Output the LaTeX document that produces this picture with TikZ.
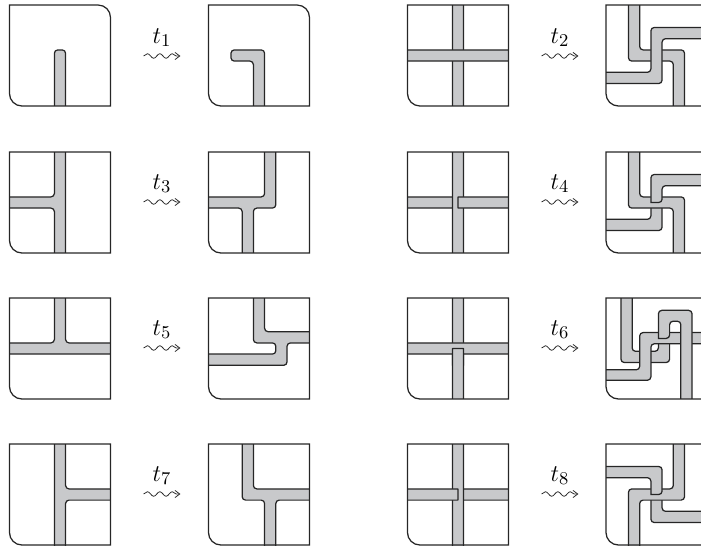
\documentclass[tikz,border=0pt]{standalone}
\usetikzlibrary{decorations.pathmorphing,arrows.meta}
\definecolor{bandgray}{RGB}{200,201,203}
\definecolor{inkline}{RGB}{38,38,38}
\tikzset{
  strand/.style={fill=bandgray,draw=inkline,line width=0.62pt,rounded corners=1.7pt,line join=miter},
  blunt/.style={fill=bandgray,draw=inkline,line width=0.62pt,rounded corners=0.15pt,line join=miter},
  frameline/.style={draw=inkline,line width=0.62pt,line join=miter},
  wavy/.style={draw=inkline,line width=0.38pt,-{Straight Barb[length=2.4pt,width=3.6pt]},decorate,
    decoration={snake,amplitude=1.15pt,segment length=6.2pt,post length=1.6pt}},
  tlabel/.style={inner sep=0pt,font=\fontsize{13}{15}\selectfont}
}
\newcommand\hband[3]{\path[blunt] (#1,#3) -- (#2,#3) -- (#2,#3+1) -- (#1,#3+1) -- cycle;}
\newcommand\vband[3]{\path[blunt] (#3,#1) -- (#3+1,#1) -- (#3+1,#2) -- (#3,#2) -- cycle;}
\newcommand\cellbox[4]{% x, y, top-right rounded (1/0), contents
  \begin{scope}[shift={(#1pt,#2pt)},x=5.61pt,y=5.61pt]
    \begin{scope}
      \clip (0,0) -- (9,0) -- (9,9) -- (0,9) -- cycle;
      #4
    \end{scope}
    \ifnum#3=1
      \path[frameline] (0,9) -- (7.9,9) arc[start angle=90,end angle=0,radius=1.1] -- (9,0) -- (1.1,0) arc[start angle=270,end angle=180,radius=1.1] -- cycle;
    \else
      \path[frameline] (0,9) -- (9,9) -- (9,0) -- (1.1,0) arc[start angle=270,end angle=180,radius=1.1] -- cycle;
    \fi
  \end{scope}}
\newcommand\transition[4]{% name, x, y, index
  \coordinate (#1s) at (#2pt-9.2pt,#3pt);
  \coordinate (#1e) at (#2pt+9.2pt,#3pt);
  \path[wavy] (#1s) -- (#1e);
  \node[tlabel] (#1l) at (#2pt,#3pt+9.2pt) {$t_{#4}$};}
\begin{document}
\begin{tikzpicture}
\useasboundingbox (0,0) rectangle (350.5pt,273pt);
\clip (0,0) rectangle (350.5pt,273pt);
% Row 1
\cellbox{4.75}{220}{1}{
  \path[strand] (4,-1) -- (4,5) -- (5,5) -- (5,-1) -- cycle;}
\cellbox{104.25}{220}{1}{
  \path[strand] (4,-1) -- (4,4) -- (2,4) -- (2,5) -- (5,5) -- (5,-1) -- cycle;}
\cellbox{203.75}{220}{0}{
  \vband{-1}{10}{4}
  \hband{-1}{10}{4}}
\cellbox{303}{220}{0}{
  \path[strand] (2,10) -- (2,4) -- (6,4) -- (6,-1) -- (7,-1) -- (7,5) -- (3,5) -- (3,10) -- cycle;
  \path[strand] (-1,2) -- (5,2) -- (5,6) -- (10,6) -- (10,7) -- (4,7) -- (4,3) -- (-1,3) -- cycle;}
% Row 2
\cellbox{4.75}{146.5}{0}{
  \path[strand] (-1,4) -- (4,4) -- (4,-1) -- (5,-1) -- (5,10) -- (4,10) -- (4,5) -- (-1,5) -- cycle;}
\cellbox{104.25}{146.5}{0}{
  \path[strand] (-1,5) -- (5,5) -- (5,10) -- (6,10) -- (6,4) -- (4,4) -- (4,-1) -- (3,-1) -- (3,4) -- (-1,4) -- cycle;}
\cellbox{203.75}{146.5}{0}{
  \hband{-1}{4.5}{4}
  \vband{-1}{10}{4}
  \hband{4.5}{10}{4}}
\cellbox{303}{146.5}{0}{
  \path[strand] (4,4.5) -- (4,3) -- (-1,3) -- (-1,2) -- (5,2) -- (5,4.5) [sharp corners] -- (4,4.5) -- cycle;
  \path[strand] (2,10) -- (2,4) -- (6,4) -- (6,-1) -- (7,-1) -- (7,5) -- (3,5) -- (3,10) -- cycle;
  \path[strand] (4,4.5) -- (4,7) -- (10,7) -- (10,6) -- (5,6) -- (5,4.5) [sharp corners] -- (4,4.5) -- cycle;}
% Row 3
\cellbox{4.75}{73.5}{0}{
  \path[strand] (-1,4) -- (10,4) -- (10,5) -- (5,5) -- (5,10) -- (4,10) -- (4,5) -- (-1,5) -- cycle;}
\cellbox{104.25}{73.5}{0}{
  \path[strand] (4,10) -- (4,5) -- (6,5) -- (6,4) -- (-1,4) -- (-1,3) -- (7,3) -- (7,5) -- (10,5) -- (10,6) -- (5,6) -- (5,10) -- cycle;}
\cellbox{203.75}{73.5}{0}{
  \vband{3}{10}{4}
  \hband{-1}{10}{4}
  \vband{-1}{4.5}{4}}
\cellbox{303}{73.5}{0}{
  \path[strand] (4.67,5.4) -- (4.67,4.25) -- (2.33,4.25) -- (2.33,10) -- (1.33,10) -- (1.33,3.25) -- (5.67,3.25) -- (5.67,5.4) [sharp corners] -- (4.67,5.4) -- cycle;
  \path[strand] (10,5.92) -- (3,5.92) -- (3,2.6) -- (-1,2.6) -- (-1,1.67) -- (4,1.67) -- (4,4.92) -- (10,4.92) -- cycle;
  \path[strand] (4.67,5.4) -- (4.67,7.9) -- (7.67,7.9) -- (7.67,-1) -- (6.67,-1) -- (6.67,6.93) -- (5.67,6.93) -- (5.67,5.4) [sharp corners] -- (4.67,5.4) -- cycle;}
% Row 4
\cellbox{4.75}{0.5}{0}{
  \path[strand] (4,-1) -- (5,-1) -- (5,4) -- (10,4) -- (10,5) -- (5,5) -- (5,10) -- (4,10) -- cycle;}
\cellbox{104.25}{0.5}{0}{
  \path[strand] (3,10) -- (3,4) -- (5,4) -- (5,-1) -- (6,-1) -- (6,4) -- (10,4) -- (10,5) -- (4,5) -- (4,10) -- cycle;}
\cellbox{203.75}{0.5}{0}{
  \hband{4.5}{10}{4}
  \vband{-1}{10}{4}
  \hband{-1}{4.5}{4}}
\cellbox{303}{0.5}{0}{
  \path[strand] (4,4.5) -- (4,2) -- (10,2) -- (10,3) -- (5,3) -- (5,4.5) [sharp corners] -- (4,4.5) -- cycle;
  \path[strand] (6,10) -- (6,5) -- (2,5) -- (2,-1) -- (3,-1) -- (3,4) -- (7,4) -- (7,10) -- cycle;
  \path[strand] (4,4.5) -- (4,6) -- (-1,6) -- (-1,7) -- (5,7) -- (5,4.5) [sharp corners] -- (4,4.5) -- cycle;}
% Labels and arrows
\transition{a}{81}{245}{1}
\transition{b}{280}{245}{2}
\transition{c}{81}{172}{3}
\transition{d}{280}{172}{4}
\transition{e}{81}{99}{5}
\transition{f}{280}{99}{6}
\transition{g}{81}{26}{7}
\transition{h}{280}{26}{8}
\end{tikzpicture}
\end{document}
